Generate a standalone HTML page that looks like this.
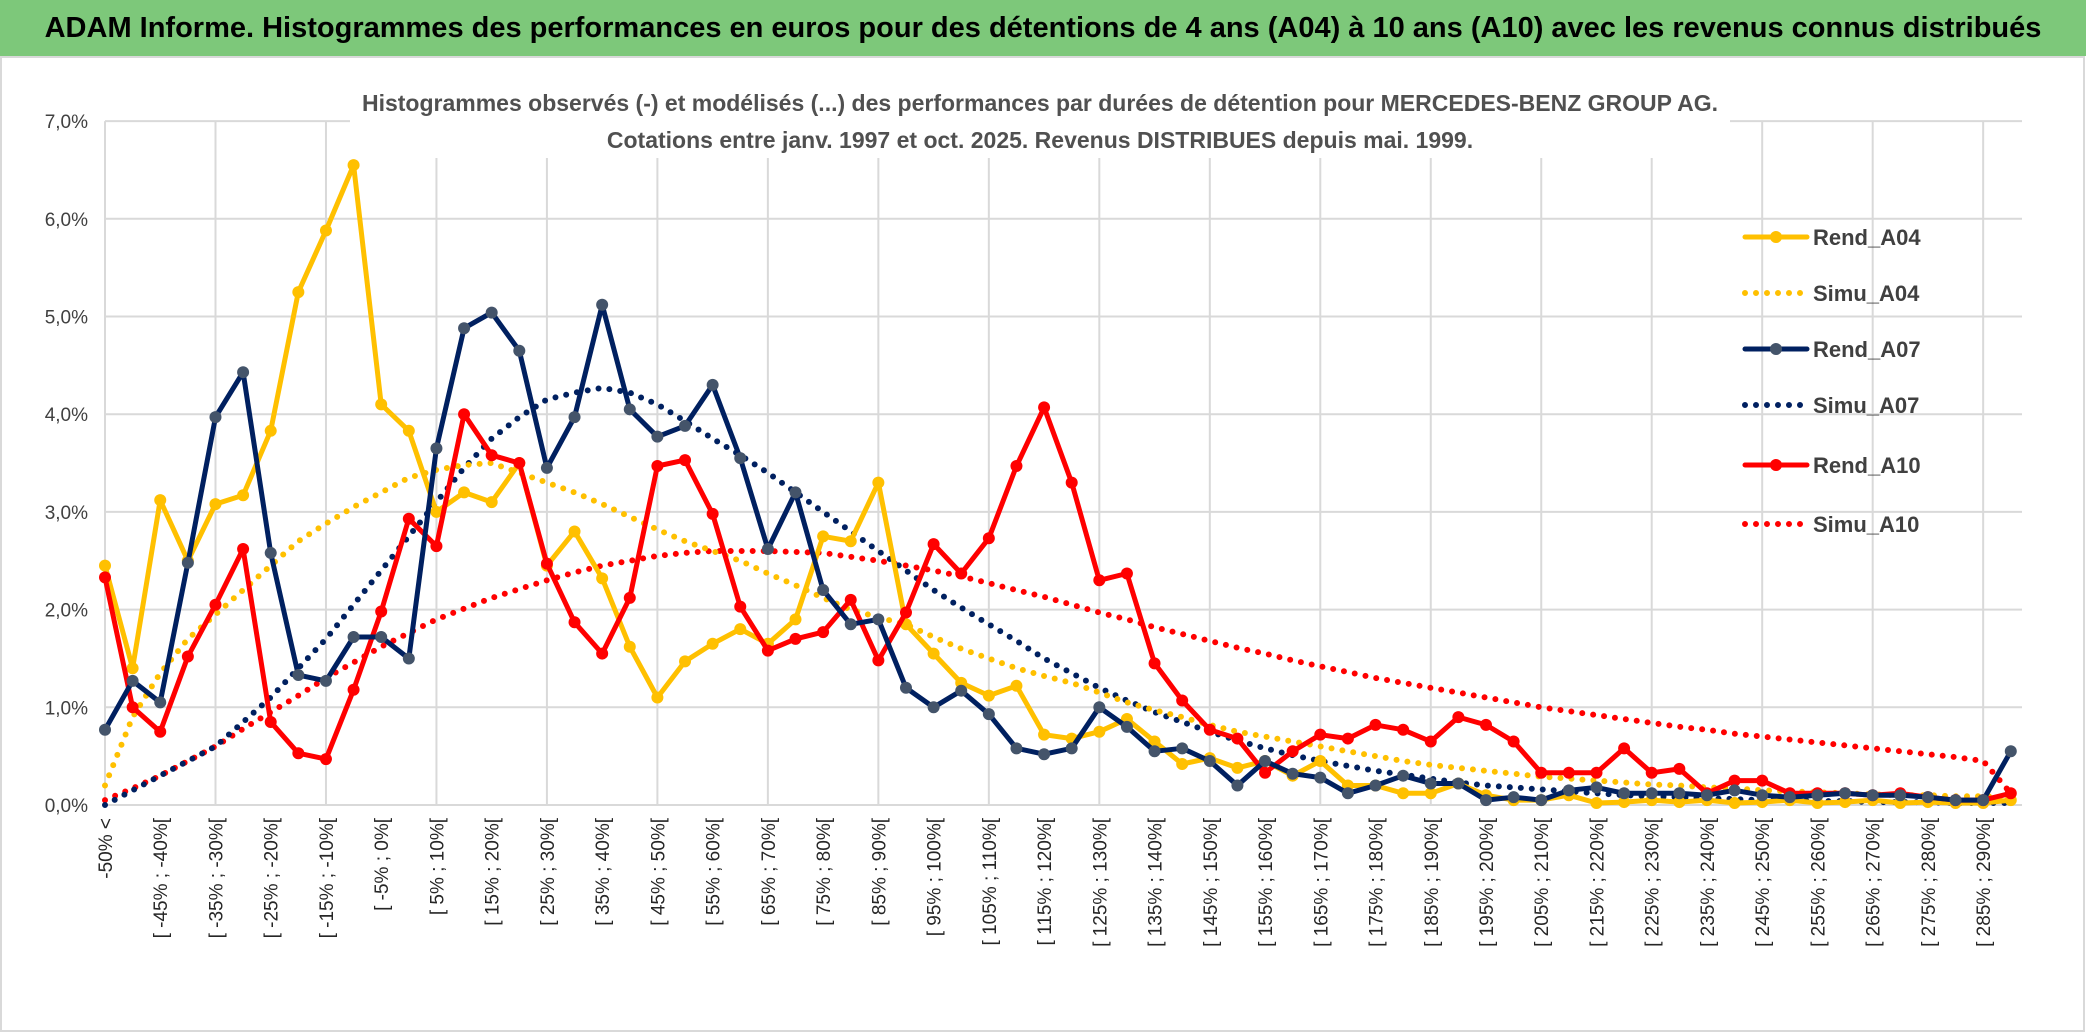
<!DOCTYPE html>
<html><head><meta charset="utf-8"><style>
html,body{margin:0;padding:0;background:#fff;}
body{width:2086px;height:1033px;overflow:hidden;font-family:"Liberation Sans",sans-serif;}
#title{position:absolute;left:0;top:0;width:2086px;height:56px;background:#7dc87a;font-weight:bold;font-size:29px;line-height:56px;text-align:center;color:#000;font-family:"Liberation Sans Narrow","Liberation Sans",sans-serif;}
svg{position:absolute;left:0;top:0;}
</style></head><body>
<div id="title">ADAM Informe. Histogrammes des performances en euros pour des détentions de 4 ans (A04) à 10 ans (A10) avec les revenus connus distribués</div>
<svg id="chart" width="2086" height="1033"></svg>
<script>
const rendA04=[2.45,1.4,3.12,2.5,3.08,3.17,3.83,5.25,5.88,6.55,4.1,3.83,3.0,3.2,3.1,3.5,2.45,2.8,2.32,1.62,1.1,1.47,1.65,1.8,1.65,1.9,2.75,2.7,3.3,1.85,1.55,1.25,1.12,1.22,0.72,0.68,0.75,0.88,0.65,0.42,0.48,0.38,0.45,0.3,0.45,0.2,0.2,0.12,0.12,0.22,0.1,0.05,0.05,0.1,0.02,0.03,0.05,0.03,0.05,0.02,0.03,0.05,0.02,0.03,0.05,0.02,0.03,0.02,0.02,0.05];
const rendA07=[0.77,1.27,1.05,2.48,3.97,4.43,2.58,1.33,1.27,1.72,1.72,1.5,3.65,4.88,5.04,4.65,3.45,3.97,5.12,4.05,3.77,3.88,4.3,3.55,2.62,3.2,2.2,1.85,1.9,1.2,1.0,1.17,0.93,0.58,0.52,0.58,1.0,0.8,0.55,0.58,0.45,0.2,0.45,0.32,0.28,0.12,0.2,0.3,0.22,0.22,0.05,0.08,0.05,0.15,0.18,0.12,0.12,0.12,0.1,0.15,0.1,0.08,0.1,0.12,0.1,0.1,0.08,0.05,0.05,0.55];
const rendA10=[2.33,1.0,0.75,1.52,2.05,2.62,0.85,0.53,0.47,1.18,1.98,2.93,2.65,4.0,3.58,3.5,2.47,1.87,1.55,2.12,3.47,3.53,2.98,2.03,1.58,1.7,1.77,2.1,1.48,1.97,2.67,2.37,2.73,3.47,4.07,3.3,2.3,2.37,1.45,1.07,0.77,0.68,0.33,0.55,0.72,0.68,0.82,0.77,0.65,0.9,0.82,0.65,0.33,0.33,0.33,0.58,0.33,0.37,0.12,0.25,0.25,0.12,0.12,0.12,0.1,0.12,0.08,0.05,0.05,0.12];
const simuA04=[0.2,0.9,1.35,1.7,1.95,2.2,2.45,2.7,2.88,3.05,3.2,3.35,3.43,3.48,3.5,3.4,3.3,3.2,3.08,2.95,2.82,2.7,2.6,2.5,2.37,2.25,2.12,2.0,1.92,1.85,1.72,1.6,1.5,1.4,1.32,1.25,1.15,1.05,0.97,0.9,0.82,0.75,0.7,0.65,0.6,0.55,0.5,0.45,0.41,0.38,0.35,0.32,0.29,0.27,0.25,0.23,0.21,0.2,0.18,0.17,0.15,0.14,0.13,0.12,0.11,0.1,0.1,0.09,0.09,0.08];
const simuA07=[0.0,0.15,0.3,0.45,0.6,0.85,1.1,1.4,1.7,2.05,2.4,2.75,3.1,3.45,3.75,3.97,4.15,4.22,4.27,4.22,4.1,3.93,3.75,3.58,3.4,3.2,3.0,2.8,2.6,2.4,2.2,2.02,1.85,1.68,1.5,1.35,1.2,1.07,0.95,0.85,0.75,0.66,0.58,0.51,0.45,0.4,0.35,0.31,0.27,0.23,0.2,0.18,0.16,0.14,0.12,0.1,0.09,0.08,0.07,0.06,0.05,0.05,0.04,0.04,0.03,0.03,0.03,0.02,0.02,0.02];
const simuA10=[0.05,0.17,0.3,0.45,0.6,0.78,0.95,1.12,1.3,1.46,1.62,1.76,1.9,2.01,2.12,2.21,2.3,2.38,2.45,2.5,2.55,2.58,2.6,2.6,2.6,2.59,2.58,2.54,2.5,2.45,2.4,2.34,2.27,2.2,2.13,2.05,1.97,1.9,1.82,1.75,1.68,1.61,1.55,1.48,1.42,1.36,1.3,1.25,1.2,1.15,1.1,1.05,1.0,0.96,0.92,0.88,0.84,0.8,0.77,0.73,0.7,0.67,0.64,0.61,0.58,0.55,0.52,0.49,0.45,0.12];
const yTicks=[0,1,2,3,4,5,6,7];
const categories=['-50% <'];
for(let k=1;k<70;k++){const a=-55+5*k;categories.push('[ '+a+'% ; '+(a+5)+'%[');}

const NS='http://www.w3.org/2000/svg';
const svg=document.getElementById('chart');
const X0=105,DX=27.62,Y0=805,DY=97.7;
const xs=i=>X0+i*DX, ys=v=>Y0-v*DY;
function mk(tag,attrs,parent){const e=document.createElementNS(NS,tag);for(const k in attrs)e.setAttribute(k,attrs[k]);(parent||svg).appendChild(e);return e;}

const br=mk('rect',{x:1,y:57,width:2083,height:974,fill:'none',stroke:'#d9d9d9','stroke-width':2});



yTicks.forEach(v=>{
  const l=mk('line',{x1:X0,x2:2022,y1:ys(v),y2:ys(v),stroke:'#d9d9d9','stroke-width':2});
  
  
  const t=mk('text',{x:88,y:ys(v)+7,'text-anchor':'end','font-size':19,fill:'#404040'});
  t.textContent=v.toFixed(1).replace('.',',')+'%';
  
  
});
for(let i=0;i<categories.length;i+=4){
  const l=mk('line',{x1:xs(i),x2:xs(i),y1:ys(7),y2:Y0,stroke:'#d9d9d9','stroke-width':2});
  
  
}
for(let i=0;i<categories.length;i+=2){
  const t=mk('text',{x:0,y:0,'text-anchor':'end','font-size':19,fill:'#262626',transform:'translate('+(xs(i)+7)+',818) rotate(-90)'});
  t.textContent=categories[i];
  
  
}

const tb=mk('rect',{x:350,y:80,width:1380,height:78,fill:'#fff'});


const t1=mk('text',{x:1040,y:111,'text-anchor':'middle','font-size':23,fill:'#505050','font-family':'Liberation Sans Narrow, Liberation Sans, sans-serif','font-weight':'bold'});
t1.textContent='Histogrammes observés (-) et modélisés (...) des performances par durées de détention pour MERCEDES-BENZ GROUP AG.';


const t2=mk('text',{x:1040,y:148,'text-anchor':'middle','font-size':23,fill:'#505050','font-family':'Liberation Sans Narrow, Liberation Sans, sans-serif','font-weight':'bold'});
t2.textContent='Cotations entre janv. 1997 et oct. 2025. Revenus DISTRIBUES depuis mai. 1999.';



function series(vals,color,dotted,marker,name){
  const pts=vals.map((v,i)=>xs(i).toFixed(1)+','+ys(v).toFixed(1)).join(' ');
  const a={points:pts,fill:'none',stroke:color,'stroke-linejoin':'round','stroke-linecap':'round'};
  if(dotted){a['stroke-width']=6;a['stroke-dasharray']='0 11';}else{a['stroke-width']=5;}
  const p=mk('polyline',a);
  
  
  if(!dotted){vals.forEach((v,i)=>{
    const c=mk('circle',{cx:xs(i),cy:ys(v),r:6,fill:marker});
    
    
  });}
}
series(simuA10,'#ff0000',true,null,'simu-a10');
series(simuA07,'#002060',true,null,'simu-a07');
series(simuA04,'#ffc000',true,null,'simu-a04');
series(rendA04,'#ffc000',false,'#ffc000','rend-a04');
series(rendA10,'#ff0000',false,'#ff0000','rend-a10');
series(rendA07,'#002060',false,'#44546a','rend-a07');

const legend=[['Rend_A04','#ffc000',false],['Simu_A04','#ffc000',true],['Rend_A07','#002060',false],['Simu_A07','#002060',true],['Rend_A10','#ff0000',false],['Simu_A10','#ff0000',true]];
const ly=[237,293,349,405,465,524];
legend.forEach((e,k)=>{
  const g=mk('g',{});
  
  
  const a={x1:1745,x2:1807,y1:ly[k],y2:ly[k],stroke:e[1],'stroke-linecap':'round'};
  if(e[2]){a['stroke-width']=6;a['stroke-dasharray']='0 11';}else{a['stroke-width']=5;}
  mk('line',a,g);
  if(!e[2])mk('circle',{cx:1776,cy:ly[k],r:6,fill:e[1]==='#002060'?'#44546a':e[1]},g);
  const t=mk('text',{x:1813,y:ly[k]+8,'font-size':22,'font-weight':'bold',fill:'#404040','font-family':'Liberation Sans Narrow, Liberation Sans, sans-serif'},g);
  t.textContent=e[0];
});
</script>
</body></html>
